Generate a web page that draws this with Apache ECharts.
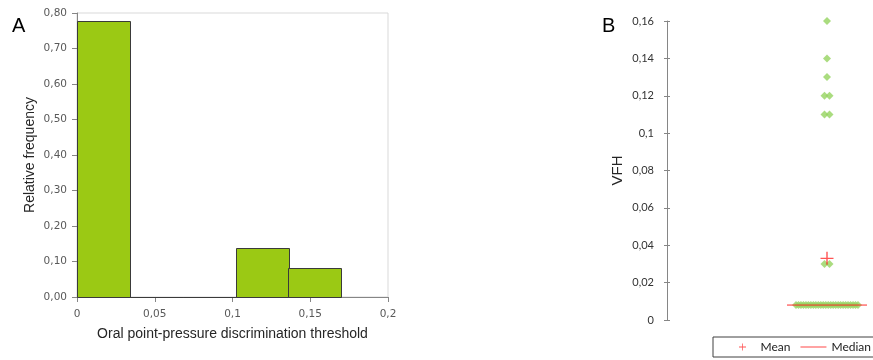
<!DOCTYPE html>
<html>
<head>
<meta charset="utf-8">
<script src="https://cdn.jsdelivr.net/npm/echarts@6/dist/echarts.min.js"></script>
<style>
  html, body { margin: 0; padding: 0; background: #ffffff; }
  #chart { width: 873px; height: 360px; }
</style>
</head>
<body>
<div id="chart"></div>
<script>
// ---- Panel A: histogram of oral point-pressure discrimination thresholds ----
const binStarts    = [0, 0.034, 0.068, 0.102, 0.136];
const binEnds      = [0.034, 0.068, 0.102, 0.136, 0.170];
const relFrequency = [0.778, 0, 0, 0.139, 0.083];
const xTickLabelsA = ['0', '0,05', '0,1', '0,15', '0,2'];
const yTickLabelsA = ['0,00', '0,10', '0,20', '0,30', '0,40', '0,50', '0,60', '0,70', '0,80'];

// ---- Panel B: individual VFH values with mean and median ----
const vfhValues = [
  0.16, 0.14, 0.13, 0.12, 0.12, 0.11, 0.11, 0.03, 0.03,
  0.008, 0.008, 0.008, 0.008, 0.008, 0.008, 0.008, 0.008, 0.008, 0.008,
  0.008, 0.008, 0.008, 0.008, 0.008, 0.008, 0.008, 0.008, 0.008, 0.008,
  0.008, 0.008, 0.008, 0.008, 0.008, 0.008
];
const vfhMean   = 0.033;
const vfhMedian = 0.008;
const yTickLabelsB = ['0', '0,02', '0,04', '0,06', '0,08', '0,1', '0,12', '0,14', '0,16'];

// Spread points sharing a value sideways (x axis of panel B is in pixels around the centre)
function swarm(values) {
  const groups = {};
  values.forEach(v => { (groups[v] = groups[v] || []).push(v); });
  const pts = [];
  Object.keys(groups).forEach(k => {
    const g = groups[k];
    const n = g.length;
    const span = Math.min(5 * (n - 1), 62);
    const step = n > 1 ? span / (n - 1) : 0;
    g.forEach((v, i) => pts.push([-span / 2 + i * step, v]));
  });
  return pts;
}

const histData = binStarts.map((s, i) => [s, binEnds[i], relFrequency[i]]);

const tickFontA = 'DejaVu Sans';
const tickFontB = 'Lato';
const axisGrey = '#868686';
const red = '#ff2a2a';
const plusPath = 'path://M5.8,0H7.2V5.8H13V7.2H7.2V13H5.8V7.2H0V5.8H5.8Z';

const chart = echarts.init(document.getElementById('chart'), null, { renderer: 'canvas' });

chart.setOption({
  animation: false,
  backgroundColor: '#ffffff',
  title: [
    { text: 'A', left: 12, top: 16, padding: 0,
      textStyle: { fontSize: 20, fontWeight: 'normal', fontFamily: 'Liberation Sans', color: '#000' } },
    { text: 'B', left: 602, top: 16, padding: 0,
      textStyle: { fontSize: 20, fontWeight: 'normal', fontFamily: 'Liberation Sans', color: '#000' } }
  ],
  legend: {
    data: [
      { name: 'Mean', icon: plusPath },
      { name: 'Median', icon: 'path://M0,0H30V1H0Z' }
    ],
    left: 713, top: 337, width: 200,
    padding: [4, 14, 4, 26],
    itemWidth: 26, itemHeight: 7, itemGap: 10,
    borderColor: '#404040', borderWidth: 1,
    textStyle: { fontFamily: tickFontB, fontSize: 12, color: '#222' }
  },
  grid: [
    { left: 77, right: 485, top: 13, bottom: 63, show: true,
      borderColor: '#d9d9d9', borderWidth: 1, backgroundColor: 'transparent' },
    { left: 667, top: 21, bottom: 40, right: 0 }
  ],
  xAxis: [
    {
      gridIndex: 0, type: 'value', min: 0, max: 0.2, interval: 0.05,
      name: 'Oral point-pressure discrimination threshold',
      nameLocation: 'middle', nameGap: 30,
      nameTextStyle: { fontFamily: 'Liberation Sans', fontSize: 14, color: '#262626' },
      axisLine: { onZero: false, lineStyle: { color: axisGrey } },
      axisTick: { length: 5, lineStyle: { color: axisGrey } },
      splitLine: { show: false },
      axisLabel: { margin: 12, fontFamily: tickFontA, fontSize: 10.5, color: '#595959',
        formatter: v => xTickLabelsA[Math.round(v / 0.05)] }
    },
    { gridIndex: 1, type: 'value', min: -160, max: 46, show: false }
  ],
  yAxis: [
    {
      gridIndex: 0, type: 'value', min: 0, max: 0.8, interval: 0.1,
      name: 'Relative frequency', nameLocation: 'middle', nameGap: 40, nameRotate: 90,
      nameTextStyle: { fontFamily: 'Liberation Sans', fontSize: 14, color: '#262626' },
      axisLine: { show: true, onZero: false, lineStyle: { color: axisGrey } },
      axisTick: { show: true, length: 5, lineStyle: { color: axisGrey } },
      splitLine: { show: false },
      axisLabel: { margin: 10, fontFamily: tickFontA, fontSize: 10.5, color: '#595959',
        formatter: v => yTickLabelsA[Math.round(v / 0.1)] }
    },
    {
      gridIndex: 1, type: 'value', position: 'left', min: 0, max: 0.16, interval: 0.02,
      name: 'VFH', nameLocation: 'middle', nameGap: 42, nameRotate: 90,
      nameTextStyle: { fontFamily: 'Liberation Sans', fontSize: 15, color: '#262626' },
      axisLine: { show: true, onZero: false, lineStyle: { color: axisGrey } },
      axisTick: { show: true, length: 3, lineStyle: { color: axisGrey } },
      splitLine: { show: false },
      axisLabel: { margin: 13, fontFamily: tickFontB, fontSize: 11, color: '#333',
        formatter: v => yTickLabelsB[Math.round(v / 0.02)] }
    },
    {
      // inner half of the crossing ticks
      gridIndex: 1, type: 'value', position: 'left', min: 0, max: 0.16, interval: 0.02,
      axisLine: { show: false, onZero: false },
      axisTick: { show: true, inside: true, length: 3, lineStyle: { color: axisGrey } },
      axisLabel: { show: false },
      splitLine: { show: false }
    }
  ],
  series: [
    {
      name: 'Relative frequency',
      type: 'custom', xAxisIndex: 0, yAxisIndex: 0,
      data: histData,
      renderItem: (params, api) => {
        const p0 = api.coord([api.value(0), 0]);
        const p1 = api.coord([api.value(1), api.value(2)]);
        return {
          type: 'rect',
          shape: { x: Math.round(p0[0]) + 0.5, y: Math.round(p1[1]) + 0.5,
                   width: Math.round(p1[0] - p0[0]), height: Math.round(p0[1] - p1[1]) },
          style: { fill: '#9bc914', stroke: '#3a3a3a', lineWidth: 1 }
        };
      },
      z: 3
    },
    {
      name: 'VFH',
      type: 'scatter', xAxisIndex: 1, yAxisIndex: 1,
      data: swarm(vfhValues),
      symbol: 'diamond', symbolSize: 8,
      itemStyle: { color: '#95d35f' },
      z: 2
    },
    {
      name: 'Median',
      type: 'line', xAxisIndex: 1, yAxisIndex: 1,
      data: [[-40, vfhMedian], [40, vfhMedian]],
      symbol: 'none',
      itemStyle: { color: red },
      lineStyle: { color: red, width: 1 },
      z: 3
    },
    {
      name: 'Mean',
      type: 'scatter', xAxisIndex: 1, yAxisIndex: 1,
      data: [[0, vfhMean]],
      symbol: plusPath,
      symbolSize: 13,
      itemStyle: { color: red },
      z: 4
    }
  ]
});
</script>
</body>
</html>
